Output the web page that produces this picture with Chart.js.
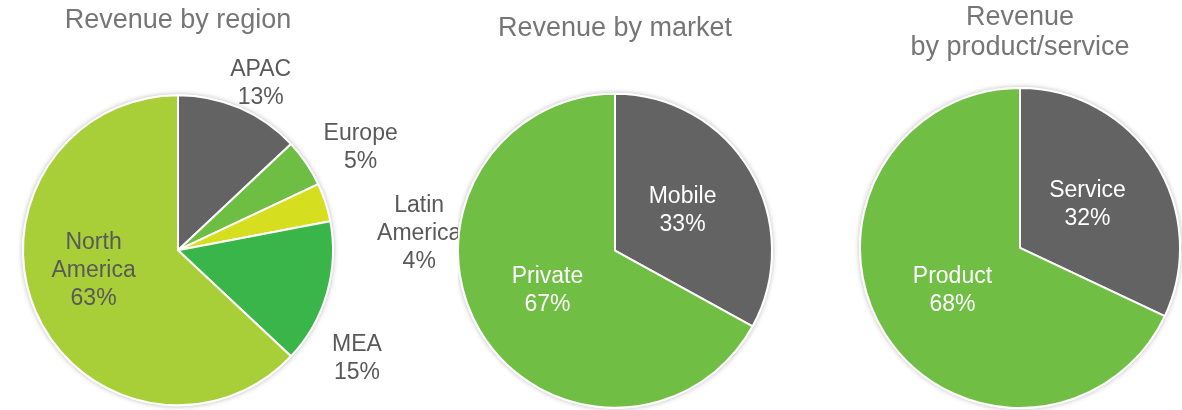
<!DOCTYPE html>
<html>
<head>
<meta charset="utf-8">
<title>Revenue breakdown</title>
<script src="https://cdn.jsdelivr.net/npm/chart.js@4.4.0/dist/chart.umd.min.js"></script>
<style>
    body {
        margin: 0;
        background: #ffffff;
        width: 1182px;
        height: 410px;
        overflow: hidden;
        position: relative;
    }
    .pie-box {
        position: absolute;
        top: 0;
        height: 410px;
    }
    #regionBox { left: 0; width: 458px; }
    #marketBox { left: 458px; width: 342px; }
    #offeringBox { left: 800px; width: 382px; }
</style>
</head>
<body>
<div class="pie-box" id="regionBox"><canvas id="regionChart"></canvas></div>
<div class="pie-box" id="marketBox"><canvas id="marketChart"></canvas></div>
<div class="pie-box" id="offeringBox"><canvas id="offeringChart"></canvas></div>

<script>
// chart data
const regionLabels = ['APAC', 'Europe', 'Latin America', 'MEA', 'North America'];
const regionValues = [13, 5, 4, 15, 63];

const marketLabels = ['Mobile', 'Private'];
const marketValues = [33, 67];

const offeringLabels = ['Service', 'Product'];
const offeringValues = [32, 68];

const FONT = '"Liberation Sans", Arial, sans-serif';
const TITLE_COLOR = '#767676';
const LABEL_GREY = '#595959';
const GREY = '#636363';

// draws "name / pct%" text on every slice, positioned from the arc geometry
const sliceLabelPlugin = {
    id: 'sliceLabels',
    afterDatasetsDraw(chart, args, opts) {
        const ctx = chart.ctx;
        const meta = chart.getDatasetMeta(0);
        const values = chart.data.datasets[0].data;
        const total = values.reduce((a, b) => a + b, 0);
        const place = opts.place || [];

        ctx.save();
        ctx.font = opts.size + 'px ' + FONT;
        ctx.textAlign = 'center';
        ctx.textBaseline = 'middle';

        meta.data.forEach((arc, i) => {
            const p = place[i] || {};
            const mid = (arc.startAngle + arc.endAngle) / 2 + (p.shift || 0) * Math.PI / 180;
            const r = arc.outerRadius * (p.dist !== undefined ? p.dist : 0.5);
            const x = arc.x + Math.cos(mid) * r;
            const y = arc.y + Math.sin(mid) * r;
            const lines = chart.data.labels[i].split(' ');
            lines.push(Math.round(values[i] / total * 100) + '%');

            ctx.fillStyle = p.color || opts.color;
            lines.forEach((t, k) => {
                ctx.fillText(t, x, y + (k - (lines.length - 1) / 2) * opts.lineGap);
            });
        });
        ctx.restore();
    }
};

// soft shadow behind the whole pie
const pieShadowPlugin = {
    id: 'pieShadow',
    beforeDatasetsDraw(chart) {
        const arc = chart.getDatasetMeta(0).data[0];
        if (!arc) return;
        const ctx = chart.ctx;
        ctx.save();
        ctx.shadowColor = 'rgba(0, 0, 0, 0.28)';
        ctx.shadowBlur = 5;
        ctx.fillStyle = '#ffffff';
        ctx.beginPath();
        ctx.arc(arc.x, arc.y, arc.outerRadius + 1, 0, Math.PI * 2);
        ctx.fill();
        ctx.restore();
    }
};

function createPie(canvasId, cfg) {
    const el = document.getElementById(canvasId);
    if (!el) {
        console.error('Canvas not found:', canvasId);
        return null;
    }

    return new Chart(el.getContext('2d'), {
        type: 'pie',
        data: {
            labels: cfg.labels,
            datasets: [{
                data: cfg.values,
                backgroundColor: cfg.colors,
                borderColor: '#ffffff',
                borderWidth: 2,
                radius: cfg.radius
            }]
        },
        options: {
            responsive: true,
            maintainAspectRatio: false,
            animation: false,
            layout: { padding: cfg.padding },
            plugins: {
                legend: { display: false },
                tooltip: { enabled: false },
                title: {
                    display: true,
                    text: cfg.title,
                    color: TITLE_COLOR,
                    fullSize: false,
                    font: { family: FONT, size: 27, weight: 'normal', lineHeight: cfg.titleLineHeight || 1.2 },
                    padding: cfg.titlePadding
                },
                sliceLabels: {
                    size: 23,
                    lineGap: 28,
                    color: cfg.labelColor,
                    place: cfg.place
                }
            }
        },
        plugins: [pieShadowPlugin, sliceLabelPlugin]
    });
}

createPie('regionChart', {
    labels: regionLabels,
    values: regionValues,
    colors: [GREY, '#6fbe44', '#d5df20', '#39b54a', '#a9cf38'],
    radius: 155,
    padding: { left: 0, right: 102, top: 0, bottom: 0 },
    title: 'Revenue by region',
    titlePadding: { top: 4, bottom: 54 },
    labelColor: LABEL_GREY,
    place: [
        { shift: 3, dist: 1.2 },
        { shift: 5, dist: 1.35 },
        { shift: 14, dist: 1.56 },
        { shift: 15, dist: 1.35 },
        { shift: 10, dist: 0.56 }
    ]
});

createPie('marketChart', {
    labels: marketLabels,
    values: marketValues,
    colors: [GREY, '#70bf44'],
    radius: 157,
    padding: { left: 0, right: 28, top: 0, bottom: 0 },
    title: 'Revenue by market',
    titlePadding: { top: 12, bottom: 47 },
    labelColor: '#ffffff',
    place: []
});

createPie('offeringChart', {
    labels: offeringLabels,
    values: offeringValues,
    colors: [GREY, '#70bf44'],
    radius: 160,
    padding: { left: 58, right: 0, top: 0, bottom: 0 },
    title: ['Revenue', 'by product/service'],
    titleLineHeight: 1.11,
    titlePadding: { top: 3, bottom: 23 },
    labelColor: '#ffffff',
    place: []
});
</script>
</body>
</html>
